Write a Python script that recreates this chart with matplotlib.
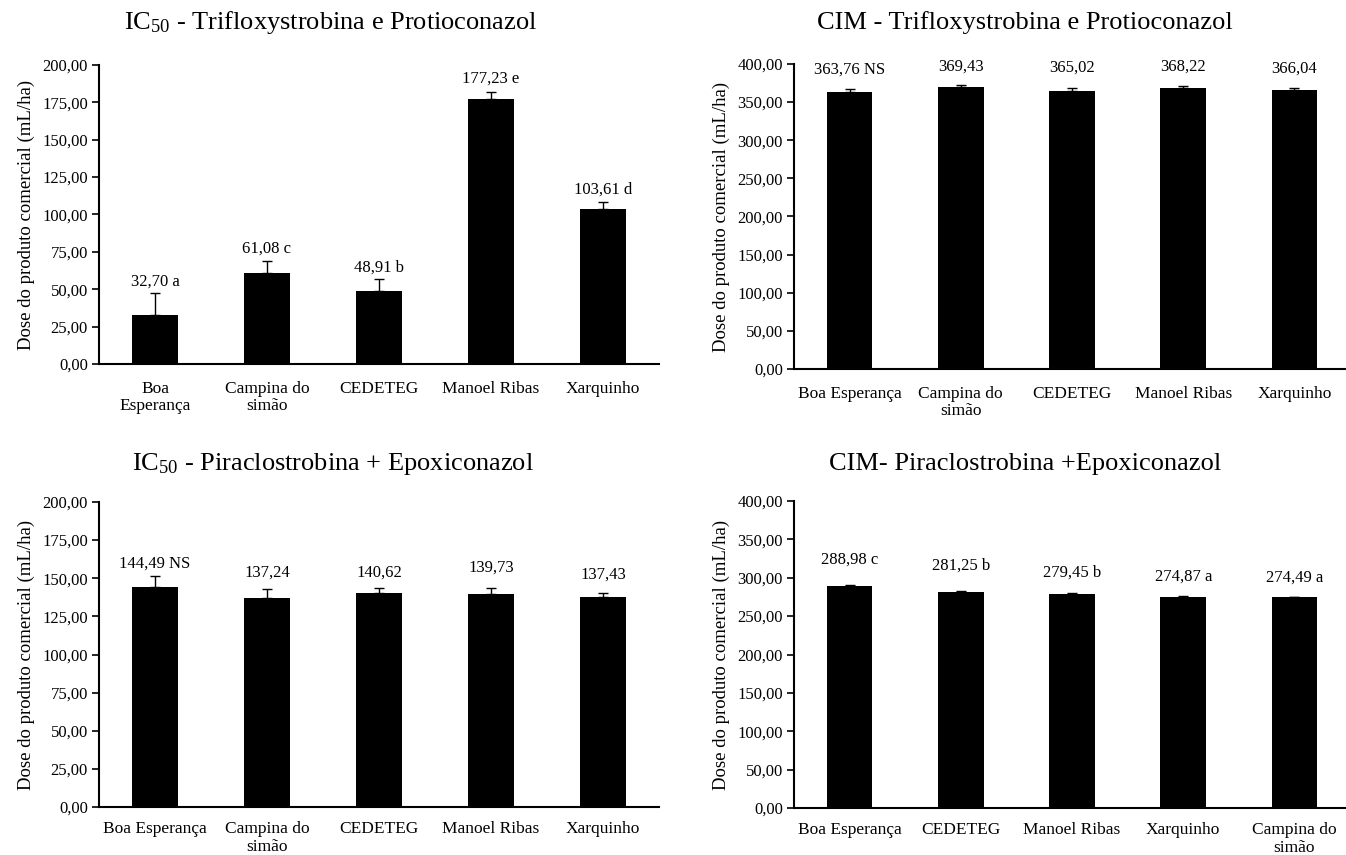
import matplotlib
matplotlib.use("Agg")
import matplotlib.pyplot as plt
from matplotlib.ticker import FuncFormatter, MultipleLocator

plt.rcParams['font.family'] = ['Liberation Serif', 'DejaVu Serif']
plt.rcParams['mathtext.fontset'] = 'custom'
plt.rcParams['mathtext.rm'] = 'Liberation Serif'
plt.rcParams['mathtext.it'] = 'Liberation Serif:italic'

# ---- data ----
cats_tl = ["Boa\nEsperança", "Campina do\nsimão", "CEDETEG", "Manoel Ribas", "Xarquinho"]
vals_tl = [32.70, 61.08, 48.91, 177.23, 103.61]
err_tl = [15.0, 8.0, 8.0, 5.0, 5.0]
labels_tl = ["32,70 a", "61,08 c", "48,91 b", "177,23 e", "103,61 d"]

cats_tr = ["Boa Esperança", "Campina do\nsimão", "CEDETEG", "Manoel Ribas", "Xarquinho"]
vals_tr = [363.76, 369.43, 365.02, 368.22, 366.04]
err_tr = [3.0, 3.0, 4.0, 3.0, 3.0]
labels_tr = ["363,76 NS", "369,43", "365,02", "368,22", "366,04"]

cats_bl = ["Boa Esperança", "Campina do\nsimão", "CEDETEG", "Manoel Ribas", "Xarquinho"]
vals_bl = [144.49, 137.24, 140.62, 139.73, 137.43]
err_bl = [7.0, 5.5, 3.0, 4.0, 3.0]
labels_bl = ["144,49 NS", "137,24", "140,62", "139,73", "137,43"]

cats_br = ["Boa Esperança", "CEDETEG", "Manoel Ribas", "Xarquinho", "Campina do\nsimão"]
vals_br = [288.98, 281.25, 279.45, 274.87, 274.49]
err_br = [1.5, 1.5, 1.0, 1.5, 1.0]
labels_br = ["288,98 c", "281,25 b", "279,45 b", "274,87 a", "274,49 a"]

titles = ["IC$_{50}$ - Trifloxystrobina e Protioconazol",
          "CIM - Trifloxystrobina e Protioconazol",
          "IC$_{50}$ - Piraclostrobina + Epoxiconazol",
          "CIM- Piraclostrobina +Epoxiconazol"]
ylabel = "Dose do produto comercial (mL/ha)"

# ---- style (label offsets above error bar top, in pixels) ----
off_tl = [11, 12.5, 11.5, 12.5, 12]
off_tr = [20, 18.6, 20.3, 19.3, 18.7]
off_bl = [12.3, 17, 15.7, 20, 18.3]
off_br = [25, 25.7, 20.3, 19, 18.7]

W, H = 1346, 855
fig = plt.figure(figsize=(W / 100, H / 100), dpi=100)

def px_axes(left, right, top, bottom):
    return fig.add_axes([left / W, 1 - bottom / H, (right - left) / W, (bottom - top) / H])

panels = [
    (px_axes(99, 659, 65, 364), cats_tl, vals_tl, err_tl, labels_tl, off_tl, 200, 25, 12),
    (px_axes(794, 1350, 64, 369), cats_tr, vals_tr, err_tr, labels_tr, off_tr, 400, 50, 12),
    (px_axes(99, 659, 502, 807), cats_bl, vals_bl, err_bl, labels_bl, off_bl, 200, 25, 10),
    (px_axes(794, 1350, 501, 808), cats_br, vals_br, err_br, labels_br, off_br, 400, 50, 10),
]

fmt = FuncFormatter(lambda v, p: f"{v:.2f}".replace(".", ","))

for ax, cats, vals, errs, labs, offs, ymax, step, xpad in panels:
    x = list(range(len(cats)))
    ax.bar(x, vals, width=0.41, color="black", zorder=2)
    ax.errorbar(x, vals, yerr=[[0] * len(errs), errs], fmt="none", ecolor="black",
                elinewidth=1.0, capsize=3.5, capthick=1.0, zorder=3)
    for xi, v, e, lab, o in zip(x, vals, errs, labs, offs):
        ax.annotate(lab, (xi, v + e), xytext=(0, o * 0.72), textcoords="offset points",
                    ha="center", va="center", fontsize=12)
    ax.set_xlim(-0.5, len(cats) - 0.5)
    ax.set_ylim(0, ymax)
    ax.yaxis.set_major_locator(MultipleLocator(step))
    ax.yaxis.set_major_formatter(fmt)
    ax.set_xticks(x)
    ax.set_xticklabels(cats, fontsize=12.5, linespacing=1.15)
    ax.tick_params(axis="x", length=0, pad=xpad)
    ax.tick_params(axis="y", direction="out", length=5, width=1.2, labelsize=12, pad=3)
    for s in ("top", "right"):
        ax.spines[s].set_visible(False)
    for s in ("left", "bottom"):
        ax.spines[s].set_linewidth(1.5)
    ax.set_ylabel(ylabel, fontsize=13.5, labelpad=5)

title_pos = [(331, 23), (1025, 23), (333, 464), (1025, 464)]
for t, (tx, ty) in zip(titles, title_pos):
    fig.text(tx / W, 1 - ty / H, t, ha="center", va="center", fontsize=19)

fig.savefig("out.png", dpi=100)
